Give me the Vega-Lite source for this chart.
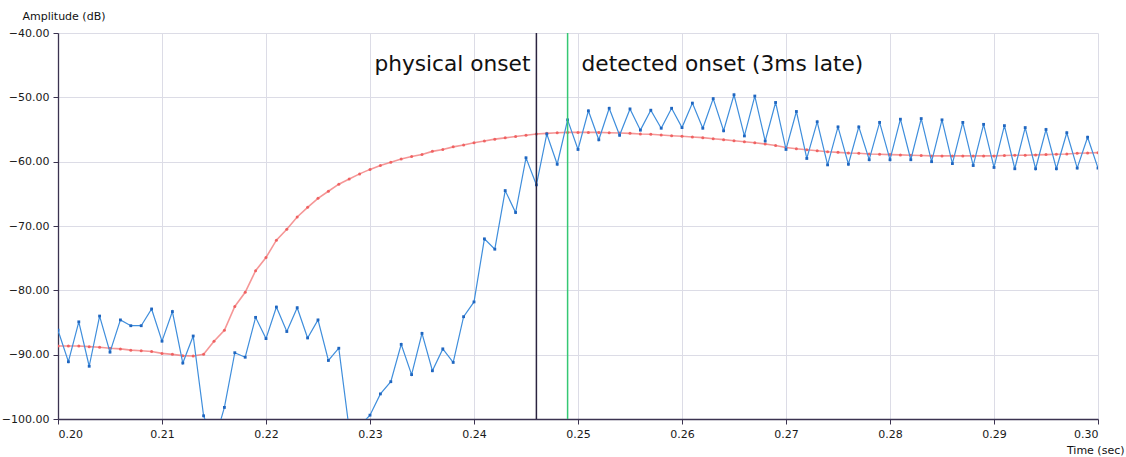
{
  "$schema": "https://vega.github.io/schema/vega-lite/v6.json",
  "width": 1040,
  "height": 386,
  "autosize": "none",
  "padding": {"left": 58, "top": 33, "right": 28, "bottom": 38},
  "background": "white",
  "config": {
    "view": {"stroke": null},
    "axis": {
      "labelFont": "DejaVu Sans",
      "labelFontSize": 11,
      "labelColor": "#1a1a1a",
      "titleFont": "DejaVu Sans",
      "titleFontSize": 11,
      "titleFontWeight": "normal",
      "titleColor": "#111111",
      "domainColor": "#3b3350",
      "domainWidth": 1.3,
      "tickColor": "#3b3350",
      "tickSize": 5,
      "gridColor": "#dcdce6",
      "gridWidth": 1
    }
  },
  "datasets": {
    "blue": [
      {"t":0.200,"v":-86.2},{"t":0.201,"v":-91.1},{"t":0.202,"v":-84.9},{"t":0.203,"v":-91.8},{"t":0.204,"v":-84.0},
      {"t":0.205,"v":-89.6},{"t":0.206,"v":-84.6},{"t":0.207,"v":-85.5},{"t":0.208,"v":-85.5},{"t":0.209,"v":-82.9},
      {"t":0.210,"v":-87.9},{"t":0.211,"v":-83.3},{"t":0.212,"v":-91.3},{"t":0.213,"v":-87.1},{"t":0.214,"v":-99.5},
      {"t":0.215,"v":-103.8},{"t":0.216,"v":-98.2},{"t":0.217,"v":-89.7},{"t":0.218,"v":-90.4},{"t":0.219,"v":-84.2},
      {"t":0.220,"v":-87.5},{"t":0.221,"v":-82.6},{"t":0.222,"v":-86.4},{"t":0.223,"v":-82.7},{"t":0.224,"v":-87.4},
      {"t":0.225,"v":-84.6},{"t":0.226,"v":-90.9},{"t":0.227,"v":-89.0},{"t":0.228,"v":-101.6},{"t":0.229,"v":-101.1},
      {"t":0.230,"v":-99.4},{"t":0.231,"v":-96.1},{"t":0.232,"v":-94.2},{"t":0.233,"v":-88.4},{"t":0.234,"v":-93.1},
      {"t":0.235,"v":-86.7},{"t":0.236,"v":-92.5},{"t":0.237,"v":-89.1},{"t":0.238,"v":-91.2},{"t":0.239,"v":-84.1},
      {"t":0.240,"v":-81.8},{"t":0.241,"v":-72.0},{"t":0.242,"v":-73.6},{"t":0.243,"v":-64.5},{"t":0.244,"v":-67.9},
      {"t":0.245,"v":-59.4},{"t":0.246,"v":-63.6},{"t":0.247,"v":-55.7},{"t":0.248,"v":-60.4},{"t":0.249,"v":-53.5},
      {"t":0.250,"v":-58.1},{"t":0.251,"v":-52.1},{"t":0.252,"v":-56.6},{"t":0.253,"v":-51.7},{"t":0.254,"v":-55.9},
      {"t":0.255,"v":-51.8},{"t":0.256,"v":-55.1},{"t":0.257,"v":-52.0},{"t":0.258,"v":-54.8},{"t":0.259,"v":-51.7},
      {"t":0.260,"v":-54.7},{"t":0.261,"v":-50.9},{"t":0.262,"v":-54.8},{"t":0.263,"v":-50.2},{"t":0.264,"v":-55.2},
      {"t":0.265,"v":-49.6},{"t":0.266,"v":-56.0},{"t":0.267,"v":-49.8},{"t":0.268,"v":-56.8},{"t":0.269,"v":-50.8},
      {"t":0.270,"v":-58.1},{"t":0.271,"v":-52.2},{"t":0.272,"v":-59.5},{"t":0.273,"v":-53.8},{"t":0.274,"v":-60.5},
      {"t":0.275,"v":-54.6},{"t":0.276,"v":-60.4},{"t":0.277,"v":-54.6},{"t":0.278,"v":-59.7},{"t":0.279,"v":-53.9},
      {"t":0.280,"v":-59.7},{"t":0.281,"v":-53.4},{"t":0.282,"v":-59.7},{"t":0.283,"v":-53.3},{"t":0.284,"v":-60.0},
      {"t":0.285,"v":-53.5},{"t":0.286,"v":-60.3},{"t":0.287,"v":-53.9},{"t":0.288,"v":-60.6},{"t":0.289,"v":-54.2},
      {"t":0.290,"v":-60.9},{"t":0.291,"v":-54.4},{"t":0.292,"v":-61.1},{"t":0.293,"v":-54.7},{"t":0.294,"v":-61.1},
      {"t":0.295,"v":-55.0},{"t":0.296,"v":-61.1},{"t":0.297,"v":-55.5},{"t":0.298,"v":-61.0},{"t":0.299,"v":-56.2},
      {"t":0.300,"v":-61.0}
    ],
    "red": [
      {"t":0.200,"v":-88.65},{"t":0.201,"v":-88.65},{"t":0.202,"v":-88.65},{"t":0.203,"v":-88.75},{"t":0.204,"v":-88.85},
      {"t":0.205,"v":-89.0},{"t":0.206,"v":-89.1},{"t":0.207,"v":-89.3},{"t":0.208,"v":-89.4},{"t":0.209,"v":-89.5},
      {"t":0.210,"v":-89.8},{"t":0.211,"v":-89.95},{"t":0.212,"v":-90.15},{"t":0.213,"v":-90.2},{"t":0.214,"v":-89.95},
      {"t":0.215,"v":-87.9},{"t":0.216,"v":-86.2},{"t":0.217,"v":-82.5},{"t":0.218,"v":-80.3},{"t":0.219,"v":-76.95},
      {"t":0.220,"v":-74.9},{"t":0.221,"v":-72.2},{"t":0.222,"v":-70.5},{"t":0.223,"v":-68.6},{"t":0.224,"v":-67.1},
      {"t":0.225,"v":-65.7},{"t":0.226,"v":-64.6},{"t":0.227,"v":-63.5},{"t":0.228,"v":-62.7},{"t":0.229,"v":-61.9},
      {"t":0.230,"v":-61.2},{"t":0.231,"v":-60.6},{"t":0.232,"v":-60.1},{"t":0.233,"v":-59.6},{"t":0.234,"v":-59.2},
      {"t":0.235,"v":-58.9},{"t":0.236,"v":-58.4},{"t":0.237,"v":-58.1},{"t":0.238,"v":-57.7},{"t":0.239,"v":-57.4},
      {"t":0.240,"v":-57.05},{"t":0.241,"v":-56.8},{"t":0.242,"v":-56.5},{"t":0.243,"v":-56.3},{"t":0.244,"v":-56.1},
      {"t":0.245,"v":-55.9},{"t":0.246,"v":-55.7},{"t":0.247,"v":-55.6},{"t":0.248,"v":-55.5},{"t":0.249,"v":-55.45},
      {"t":0.250,"v":-55.45},{"t":0.251,"v":-55.45},{"t":0.252,"v":-55.45},{"t":0.253,"v":-55.5},{"t":0.254,"v":-55.55},
      {"t":0.255,"v":-55.6},{"t":0.256,"v":-55.7},{"t":0.257,"v":-55.75},{"t":0.258,"v":-55.86},{"t":0.259,"v":-55.96},
      {"t":0.260,"v":-56.06},{"t":0.261,"v":-56.17},{"t":0.262,"v":-56.27},{"t":0.263,"v":-56.43},{"t":0.264,"v":-56.58},
      {"t":0.265,"v":-56.74},{"t":0.266,"v":-56.9},{"t":0.267,"v":-57.05},{"t":0.268,"v":-57.25},{"t":0.269,"v":-57.5},
      {"t":0.270,"v":-57.8},{"t":0.271,"v":-58.0},{"t":0.272,"v":-58.15},{"t":0.273,"v":-58.3},{"t":0.274,"v":-58.45},
      {"t":0.275,"v":-58.55},{"t":0.276,"v":-58.65},{"t":0.277,"v":-58.7},{"t":0.278,"v":-58.8},{"t":0.279,"v":-58.85},
      {"t":0.280,"v":-58.9},{"t":0.281,"v":-58.95},{"t":0.282,"v":-59.0},{"t":0.283,"v":-59.05},{"t":0.284,"v":-59.1},
      {"t":0.285,"v":-59.1},{"t":0.286,"v":-59.1},{"t":0.287,"v":-59.1},{"t":0.288,"v":-59.1},{"t":0.289,"v":-59.1},
      {"t":0.290,"v":-59.1},{"t":0.291,"v":-59.05},{"t":0.292,"v":-59.0},{"t":0.293,"v":-59.0},{"t":0.294,"v":-58.95},
      {"t":0.295,"v":-58.9},{"t":0.296,"v":-58.85},{"t":0.297,"v":-58.8},{"t":0.298,"v":-58.7},{"t":0.299,"v":-58.65},
      {"t":0.300,"v":-58.6}
    ],
    "markers": [
      {"t":0.246,"label":"physical onset","kind":"physical"},
      {"t":0.249,"label":"detected onset (3ms late)","kind":"detected"}
    ]
  },
  "encoding": {
    "x": {
      "field": "t", "type": "quantitative",
      "scale": {"domain": [0.2, 0.3], "nice": false, "zero": false},
      "axis": {
        "title": "Time (sec)",
        "values": [0.2,0.21,0.22,0.23,0.24,0.25,0.26,0.27,0.28,0.29,0.3],
        "format": ".2f",
        "labelPadding": 4,
        "titleAnchor": "end",
        "titleAlign": "right",
        "titleBaseline": "middle",
        "titleX": 1066,
        "titleY": 31
      }
    }
  },
  "layer": [
    {
      "data": {"name": "red"},
      "mark": {"type": "line", "color": "#f27373", "strokeWidth": 1.6, "opacity": 0.75, "clip": true},
      "encoding": {
        "y": {
          "field": "v", "type": "quantitative",
          "scale": {"domain": [-100, -40], "nice": false, "zero": false},
          "axis": {
            "title": "Amplitude (dB)",
            "values": [-100,-90,-80,-70,-60,-50,-40],
            "format": ".2f",
            "labelPadding": 4,
            "titleAngle": 0,
            "titleAlign": "left",
            "titleBaseline": "middle",
            "titleX": -36,
            "titleY": -17
          }
        }
      }
    },
    {
      "data": {"name": "red"},
      "mark": {"type": "point", "shape": "circle", "filled": true, "color": "#ee5a5a", "size": 9, "opacity": 0.9, "clip": true},
      "encoding": {"y": {"field": "v", "type": "quantitative"}}
    },
    {
      "data": {"name": "blue"},
      "mark": {"type": "line", "color": "#3f8edc", "strokeWidth": 1.2, "clip": true},
      "encoding": {"y": {"field": "v", "type": "quantitative"}}
    },
    {
      "data": {"name": "blue"},
      "mark": {"type": "point", "shape": "square", "filled": true, "color": "#1f66c0", "size": 8, "opacity": 1, "clip": true},
      "encoding": {"y": {"field": "v", "type": "quantitative"}}
    },
    {
      "data": {"name": "markers"},
      "mark": {"type": "rule", "strokeWidth": 1.5},
      "encoding": {
        "color": {
          "field": "kind", "type": "nominal",
          "scale": {"domain": ["physical", "detected"], "range": ["#2b2440", "#35c874"]},
          "legend": null
        }
      }
    },
    {
      "data": {"name": "markers"},
      "transform": [{"filter": "datum.kind === 'physical'"}],
      "mark": {"type": "text", "align": "right", "baseline": "middle", "dx": -6, "dy": 1, "font": "DejaVu Sans", "fontSize": 21.7, "color": "#111111"},
      "encoding": {"y": {"datum": -44.7}, "text": {"field": "label"}}
    },
    {
      "data": {"name": "markers"},
      "transform": [{"filter": "datum.kind === 'detected'"}],
      "mark": {"type": "text", "align": "left", "baseline": "middle", "dx": 14, "dy": 1, "font": "DejaVu Sans", "fontSize": 21.7, "color": "#111111"},
      "encoding": {"y": {"datum": -44.7}, "text": {"field": "label"}}
    }
  ]
}
